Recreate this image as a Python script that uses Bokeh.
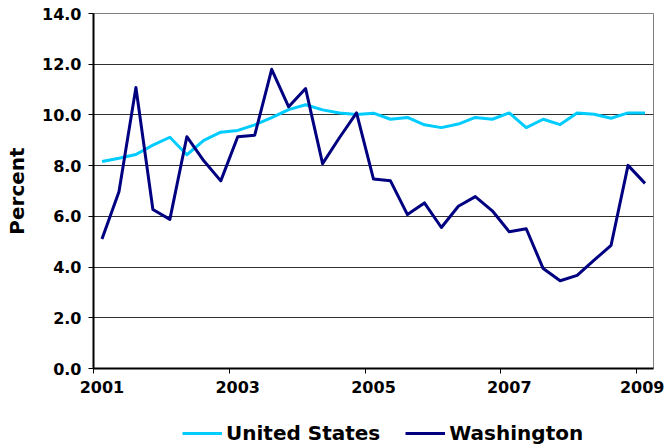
from bokeh.plotting import figure
from bokeh.layouts import column
from bokeh.models import FixedTicker, PrintfTickFormatter, Legend, LegendItem, Range1d
from bokeh.embed import file_html
from bokeh.resources import INLINE

# Quarterly data, 2001 Q1 .. 2009 Q1
quarter_index = list(range(33))
year_ticks = [0, 8, 16, 24, 32]
year_labels = ["2001", "2003", "2005", "2007", "2009"]
y_ticks = [0, 2, 4, 6, 8, 10, 12, 14]
series_names = ["United States", "Washington"]
series_colors = ["#00CCFF", "#000080"]

united_states = [8.16, 8.29, 8.44, 8.81, 9.12, 8.43, 9.00, 9.32, 9.39, 9.61, 9.89,
                 10.21, 10.40, 10.20, 10.08, 10.02, 10.07, 9.83, 9.90, 9.61, 9.50,
                 9.64, 9.90, 9.83, 10.08, 9.50, 9.83, 9.62, 10.08, 10.03, 9.87,
                 10.08, 10.08]
washington = [5.11, 6.97, 11.08, 6.27, 5.88, 9.14, 8.19, 7.40, 9.14, 9.20, 11.80,
              10.32, 11.04, 8.08, 9.11, 10.08, 7.47, 7.40, 6.07, 6.53, 5.56,
              6.40, 6.78, 6.22, 5.39, 5.51, 3.94, 3.46, 3.67, 4.27, 4.86,
              8.01, 7.30]
series_values = [united_states, washington]

FONT = "DejaVu Sans"

p = figure(width=664, height=400, output_backend="svg", toolbar_location=None,
           x_range=Range1d(-0.5, 32.5), y_range=Range1d(0, 14),
           min_border_left=93, min_border_right=11, min_border_top=13,
           min_border_bottom=32)

p.outline_line_color = "#808080"
p.outline_line_width = 1

p.xgrid.grid_line_color = None
p.ygrid.grid_line_color = "#303030"
p.ygrid.grid_line_width = 1
p.ygrid.ticker = FixedTicker(ticks=y_ticks)

# y axis
p.yaxis.ticker = FixedTicker(ticks=y_ticks)
p.yaxis.formatter = PrintfTickFormatter(format="%.1f")
p.yaxis.axis_label = "Percent"
p.yaxis.axis_label_text_font = FONT
p.yaxis.axis_label_text_font_style = "bold"
p.yaxis.axis_label_text_font_size = "20px"
p.yaxis.axis_label_text_color = "black"
p.yaxis.axis_label_standoff = 10
p.yaxis.major_label_text_font = FONT
p.yaxis.major_label_text_font_style = "bold"
p.yaxis.major_label_text_font_size = "16px"
p.yaxis.major_label_text_color = "black"
p.yaxis.major_label_standoff = 7
p.yaxis.major_tick_out = 5
p.yaxis.major_tick_in = 0
p.yaxis.minor_tick_line_color = None
p.yaxis.axis_line_color = "black"
p.yaxis.axis_line_width = 2

# x axis
p.xaxis.ticker = FixedTicker(ticks=year_ticks,
                             minor_ticks=[t - 0.5 for t in year_ticks])
p.xaxis.major_label_overrides = {t: l for t, l in zip(year_ticks, year_labels)}
p.xaxis.major_tick_line_color = None
p.xaxis.minor_tick_out = 5
p.xaxis.minor_tick_in = 0
p.xaxis.minor_tick_line_color = "black"
p.xaxis.major_label_text_font = FONT
p.xaxis.major_label_text_font_style = "bold"
p.xaxis.major_label_text_font_size = "16px"
p.xaxis.major_label_text_color = "black"
p.xaxis.major_label_standoff = 6
p.xaxis.axis_line_color = "black"
p.xaxis.axis_line_width = 2

for vals, c in zip(series_values, series_colors):
    p.line(quarter_index, vals, line_color=c, line_width=3, line_join="round")

# Legend strip below the chart (its series lie outside its visible range,
# only the legend swatches and labels show)
q = figure(width=664, height=47, output_backend="svg", toolbar_location=None,
           x_range=Range1d(-0.5, 32.5), y_range=Range1d(100, 101),
           x_axis_location=None, y_axis_location=None, min_border=0)
q.grid.visible = False
q.outline_line_color = None
swatches = [q.line(quarter_index, vals, line_color=c, line_width=3)
            for vals, c in zip(series_values, series_colors)]

legend = Legend(items=[LegendItem(label=n, renderers=[r])
                       for n, r in zip(series_names, swatches)],
                orientation="horizontal", location=(89, 2),
                label_text_font=FONT, label_text_font_style="bold",
                label_text_font_size="20px", label_text_color="black",
                glyph_width=40, glyph_height=20,
                label_standoff=4, spacing=25, padding=0, margin=0,
                border_line_color=None, background_fill_alpha=0)
q.add_layout(legend, "center")

layout = column(p, q, spacing=0)

open("out.html", "w").write(file_html(layout, INLINE))
